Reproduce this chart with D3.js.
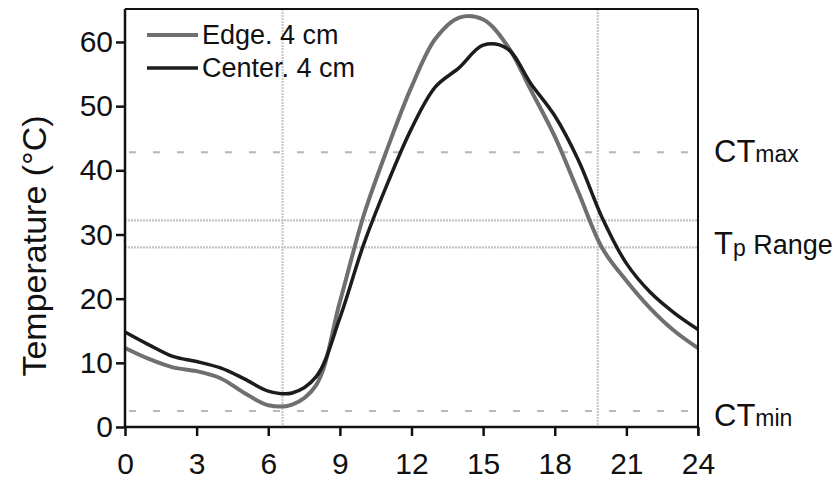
<!DOCTYPE html>
<html><head><meta charset="utf-8">
<script src="https://cdn.jsdelivr.net/npm/d3@7"></script>
<style>body{margin:0;background:#fff}svg{display:block}text{font-family:"Liberation Sans",Arial,sans-serif;fill:#111}</style>
</head><body><svg id="c" width="838" height="485"></svg>
<script>
const hours = [0,1,2,3,4,5,6,7,8,9,10,11,12,13,14,15,16,17,18,19,20,21,22,23,24];
const edgeTemps = [12.3,10.6,9.3,8.7,7.6,5.3,3.4,3.5,6.5,19.5,33,43.5,53,60.5,63.8,63.5,59.5,52.5,45.3,36.5,27.8,22.8,18.5,15,12.3];
const centerTemps = [14.8,12.8,11,10.2,9.2,7.5,5.6,5.3,7.8,17,28.5,38,46.5,53,56,59.5,59,53.5,48.5,41.5,32.5,25.5,21,17.8,15.2];
const seriesNames = ["Edge. 4 cm","Center. 4 cm"];
const xTicks = [0,3,6,9,12,15,18,21,24];
const yTicks = [0,10,20,30,40,50,60];
const ctMax = 42.8, ctMin = 2.5, tpRange = [32.2, 28.0];
const vLines = [6.6, 19.8];

const svg = d3.select("#c");
const L=125,R=698,T=9,B=427;
const x = d3.scaleLinear().domain([0,24]).range([L,R]);
const y = d3.scaleLinear().domain([0,65.14]).range([B,T]);

// reference lines
const g = svg.append("g");
vLines.forEach(v=>g.append("line").attr("x1",x(v)).attr("x2",x(v)).attr("y1",T).attr("y2",B)
  .attr("stroke","#c4c4c4").attr("stroke-width",2).attr("stroke-dasharray","2,1"));
tpRange.forEach(v=>g.append("line").attr("x1",L).attr("x2",R).attr("y1",y(v)).attr("y2",y(v))
  .attr("stroke","#c4c4c4").attr("stroke-width",2.2).attr("stroke-dasharray","2,1"));
[ctMax,ctMin].forEach(v=>g.append("line").attr("x1",L+4).attr("x2",R).attr("y1",y(v)).attr("y2",y(v))
  .attr("stroke","#b8b8b8").attr("stroke-width",2).attr("stroke-dasharray","7,17"));

// series
const line = d3.line().x((d,i)=>x(hours[i])).y(d=>y(d)).curve(d3.curveCatmullRom.alpha(0.5));
svg.append("path").datum(edgeTemps).attr("d",line).attr("fill","none").attr("stroke","#6f6f6f").attr("stroke-width",4);
svg.append("path").datum(centerTemps).attr("d",line).attr("fill","none").attr("stroke","#1c1c1c").attr("stroke-width",3.5);

// frame
svg.append("line").attr("x1",L).attr("x2",R).attr("y1",T).attr("y2",T).attr("stroke","#111").attr("stroke-width",2);
svg.append("line").attr("x1",R).attr("x2",R).attr("y1",T).attr("y2",B+8).attr("stroke","#111").attr("stroke-width",2);

// axes
const xa = svg.append("g").attr("transform",`translate(0,${B})`)
  .call(d3.axisBottom(x).tickValues(xTicks).tickSize(9).tickPadding(17));
const ya = svg.append("g").attr("transform",`translate(${L},0)`)
  .call(d3.axisLeft(y).tickValues(yTicks).tickSize(9).tickPadding(3));
[xa,ya].forEach(a=>{a.select(".domain").attr("stroke","#111").attr("stroke-width",2.5);
  a.selectAll(".tick line").attr("stroke","#111").attr("stroke-width",2.5);
  a.selectAll("text").style("font-size","30px").attr("fill","#111");});
xa.select(".domain").attr("d",`M${L},0H${R}`);
ya.select(".domain").attr("d",`M0,${B}V${T}`);

// y title
svg.append("text").attr("transform","translate(46,246) rotate(-90)").attr("text-anchor","middle")
  .style("font-size","34px").text("Temperature (°C)");

// right labels
const rl = svg.append("g");
let t = rl.append("text").attr("x",714).attr("y",y(ctMax)+10).style("font-size","31px");
t.append("tspan").text("CT"); t.append("tspan").style("font-size","23px").text("max");
t = rl.append("text").attr("x",714).attr("y",y(30)+20).style("font-size","31px");
t.append("tspan").text("T"); t.append("tspan").style("font-size","23px").attr("dy",2).text("p");
t.append("tspan").attr("dy",-2).style("font-size","27px").text(" Range");
t = rl.append("text").attr("x",714).attr("y",y(ctMin)+15).style("font-size","31px");
t.append("tspan").text("CT"); t.append("tspan").style("font-size","23px").text("min");

// legend
const leg = svg.append("g");
const legStroke = [["#6f6f6f",4],["#1c1c1c",3.5]];
seriesNames.forEach((n,i)=>{
  const yy = 35 + i*33;
  leg.append("line").attr("x1",147).attr("x2",198).attr("y1",yy).attr("y2",yy)
    .attr("stroke",legStroke[i][0]).attr("stroke-width",legStroke[i][1]);
  leg.append("text").attr("x",202).attr("y",yy+9).style("font-size","27px").text(n);
});
</script></body></html>
